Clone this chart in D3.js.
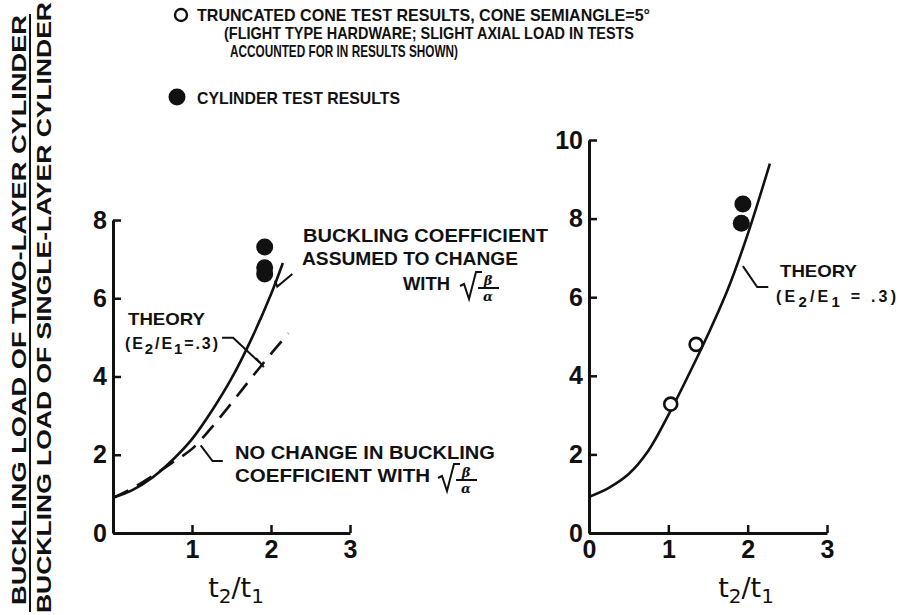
<!DOCTYPE html>
<html>
<head>
<meta charset="utf-8">
<script src="https://cdn.jsdelivr.net/npm/d3@7"></script>
<style>
  body { margin: 0; background: #fff; }
  svg { display: block; }
  text { font-family: "Liberation Sans", "DejaVu Sans", sans-serif; font-weight: bold; fill: #111; }
</style>
</head>
<body>
<svg id="chart" width="907" height="615"></svg>
<script>
// ---- data -------------------------------------------------------------
// Left panel: theory curves, buckling load ratio vs t2/t1 (E2/E1 = .3)
const leftChangingCoeff = [
  [0, 0.9], [0.25, 1.1], [0.5, 1.42], [0.75, 1.86], [1.0, 2.4], [1.25, 3.12],
  [1.5, 3.95], [1.75, 4.95], [2.0, 6.1], [2.15, 6.9]
];
const leftConstantCoeff = [
  [0, 0.9], [0.25, 1.15], [0.5, 1.46], [0.75, 1.8], [1.0, 2.15], [1.25, 2.7],
  [1.5, 3.32], [1.75, 3.96], [2.0, 4.58], [2.22, 5.1]
];
const leftCylinderTests = [[1.92, 7.31], [1.92, 6.78], [1.92, 6.62]];

// Right panel: theory curve with cone and cylinder test results
const rightTheory = [
  [0, 0.92], [0.25, 1.15], [0.5, 1.5], [0.75, 2.1], [1.0, 3.0], [1.25, 4.0],
  [1.5, 5.05], [1.75, 6.2], [2.0, 7.6], [2.28, 9.4]
];
const rightConeTests = [[1.03, 3.28], [1.35, 4.8]];
const rightCylinderTests = [[1.94, 8.37], [1.92, 7.88]];

// Axis ticks
const leftXTicks = [1, 2, 3];
const leftYTicks = [0, 2, 4, 6, 8];
const rightXTicks = [0, 1, 2, 3];
const rightYTicks = [0, 2, 4, 6, 8, 10];

// ---- setup ------------------------------------------------------------
const svg = d3.select("#chart");
const INK = "#111";

const xL = d3.scaleLinear().domain([0, 3]).range([113, 350]);
const yL = d3.scaleLinear().domain([0, 8]).range([533, 220]);
const xR = d3.scaleLinear().domain([0, 3]).range([589, 827]);
const yR = d3.scaleLinear().domain([0, 10]).range([533, 140]);

function drawAxes(x, y, xTicks, yTicks) {
  const gx = svg.append("g").attr("transform", `translate(0,${y(0)})`)
    .call(d3.axisBottom(x).tickValues(xTicks).tickSizeInner(-8).tickSizeOuter(0)
      .tickPadding(7).tickFormat(d3.format("d")));
  const gy = svg.append("g").attr("transform", `translate(${x(0)},0)`)
    .call(d3.axisLeft(y).tickValues(yTicks).tickSizeInner(-8).tickSizeOuter(0)
      .tickPadding(6).tickFormat(d3.format("d")));
  [gx, gy].forEach(g => {
    g.select(".domain").attr("stroke", INK).attr("stroke-width", 3);
    g.selectAll(".tick line").attr("stroke", INK).attr("stroke-width", 2.5);
    g.selectAll(".tick text").attr("fill", INK)
      .style("font-family", "'Liberation Sans', sans-serif")
      .style("font-weight", "bold").style("font-size", "25px");
  });
}

function drawCurve(data, x, y, dash) {
  svg.append("path").datum(data)
    .attr("fill", "none").attr("stroke", INK).attr("stroke-width", 2.6)
    .attr("stroke-dasharray", dash || null)
    .attr("d", d3.line().x(d => x(d[0])).y(d => y(d[1])).curve(d3.curveCatmullRom));
}

function drawPoints(data, x, y, filled) {
  svg.append("g").selectAll("circle").data(data).join("circle")
    .attr("cx", d => x(d[0])).attr("cy", d => y(d[1]))
    .attr("r", filled ? 8.5 : 6.5)
    .attr("fill", filled ? INK : "#fff")
    .attr("stroke", INK).attr("stroke-width", filled ? 0 : 2.6);
}

function leader(pts, x, y) {
  svg.append("path").datum(pts)
    .attr("fill", "none").attr("stroke", INK).attr("stroke-width", 2)
    .attr("d", d3.line().x(d => x(d[0])).y(d => y(d[1])));
}

// square-root-of-beta-over-alpha sign, baseline at yb
function rootSign(x0, yb) {
  const g = svg.append("g").attr("transform", `translate(${x0},${yb})`);
  g.append("path").attr("fill", "none").attr("stroke", INK).attr("stroke-width", 2)
    .attr("d", "M0,-4 L4,-6 L9,9 L16,-18 L22,-18");
  g.append("text").attr("x", 28).attr("y", -5).attr("text-anchor", "middle")
    .style("font-family", "'DejaVu Serif', serif").style("font-style", "italic")
    .style("font-size", "13px").text("β");
  g.append("line").attr("x1", 18).attr("x2", 39).attr("y1", -2).attr("y2", -2)
    .attr("stroke", INK).attr("stroke-width", 2);
  g.append("text").attr("x", 28).attr("y", 11).attr("text-anchor", "middle")
    .style("font-family", "'DejaVu Serif', serif").style("font-style", "italic")
    .style("font-size", "13px").text("α");
}

function label(x, y, str, size, len) {
  const t = svg.append("text").attr("x", x).attr("y", y)
    .style("font-size", size + "px").text(str);
  if (len) t.attr("textLength", len).attr("lengthAdjust", "spacingAndGlyphs");
  return t;
}

function ratioLabel(x, y, spaced) {
  const t = svg.append("text").attr("x", x).attr("y", y).style("font-size", "16px");
  t.append("tspan").text("(E");
  t.append("tspan").attr("dy", 5).style("font-size", "15px").text("2");
  t.append("tspan").attr("dy", -5).text("/E");
  t.append("tspan").attr("dy", 5).style("font-size", "15px").text("1");
  t.append("tspan").attr("dy", -5).text(spaced ? " = .3)" : "=.3)");
  return t;
}

function axisTitle(cx, y) {
  const t = svg.append("text").attr("x", cx).attr("y", y).attr("text-anchor", "middle")
    .style("font-family", "'DejaVu Sans', sans-serif").style("font-weight", "normal")
    .style("font-size", "27px");
  t.append("tspan").text("t");
  t.append("tspan").attr("dy", 6).style("font-size", "20px").text("2");
  t.append("tspan").attr("dy", -6).text("/t");
  t.append("tspan").attr("dy", 6).style("font-size", "20px").text("1");
}

// ---- left panel -------------------------------------------------------
drawCurve(leftChangingCoeff, xL, yL);
drawCurve(leftConstantCoeff, xL, yL, "17,10");
drawPoints(leftCylinderTests, xL, yL, true);
drawAxes(xL, yL, leftXTicks, leftYTicks);
axisTitle(236, 597);

label(128, 325, "THEORY", 17, 77);
ratioLabel(125, 349).attr("textLength", 93);
leader([[1.38, 4.99], [1.52, 4.99], [1.86, 4.35]], xL, yL);
leader([[1.81, 4.47], [1.91, 4.24]], xL, yL);

label(303, 242, "BUCKLING COEFFICIENT", 18, 245);
label(302, 265, "ASSUMED TO CHANGE", 18, 216);
label(403, 290, "WITH", 18, 47);
rootSign(460, 290);
leader([[2.27, 6.62], [2.08, 6.3], [2.05, 6.45]], xL, yL);

label(235, 459, "NO CHANGE IN BUCKLING", 18, 260);
label(235, 482, "COEFFICIENT WITH", 18, 195);
rootSign(438, 482);
leader([[1.11, 2.24], [1.26, 1.84], [1.39, 1.84]], xL, yL);

// ---- right panel ------------------------------------------------------
drawCurve(rightTheory, xR, yR);
drawPoints(rightConeTests, xR, yR, false);
drawPoints(rightCylinderTests, xR, yR, true);
drawAxes(xR, yR, rightXTicks, rightYTicks);
axisTitle(746, 597);

label(780, 277, "THEORY", 17, 77);
ratioLabel(776, 302, true).attr("textLength", 120);
leader([[1.94, 6.79], [2.12, 6.26], [2.26, 6.26]], xR, yR);

// ---- legend -----------------------------------------------------------
svg.append("circle").attr("cx", 181).attr("cy", 15).attr("r", 6)
  .attr("fill", "#fff").attr("stroke", INK).attr("stroke-width", 2.4);
label(197, 21, "TRUNCATED CONE TEST RESULTS, CONE SEMIANGLE=5°", 17, 453);
label(224, 39, "(FLIGHT TYPE HARDWARE; SLIGHT AXIAL LOAD IN TESTS", 17, 410);
label(230, 57, "ACCOUNTED FOR IN RESULTS SHOWN)", 17, 228);
svg.append("circle").attr("cx", 177).attr("cy", 97).attr("r", 8.5).attr("fill", INK);
label(197, 104, "CYLINDER TEST RESULTS", 17, 203);

// ---- y-axis title (ratio of buckling loads) ---------------------------
const yTitle = svg.append("g");
yTitle.append("text").attr("transform", "translate(26,605) rotate(-90)")
  .style("font-size", "20px").attr("textLength", 590).attr("lengthAdjust", "spacingAndGlyphs")
  .text("BUCKLING LOAD OF TWO-LAYER CYLINDER");
yTitle.append("line").attr("x1", 30).attr("x2", 30).attr("y1", 612).attr("y2", 14)
  .attr("stroke", INK).attr("stroke-width", 2);
yTitle.append("text").attr("transform", "translate(51,613) rotate(-90)")
  .style("font-size", "20px").attr("textLength", 611).attr("lengthAdjust", "spacingAndGlyphs")
  .text("BUCKLING LOAD OF SINGLE-LAYER CYLINDER");
</script>
</body>
</html>
